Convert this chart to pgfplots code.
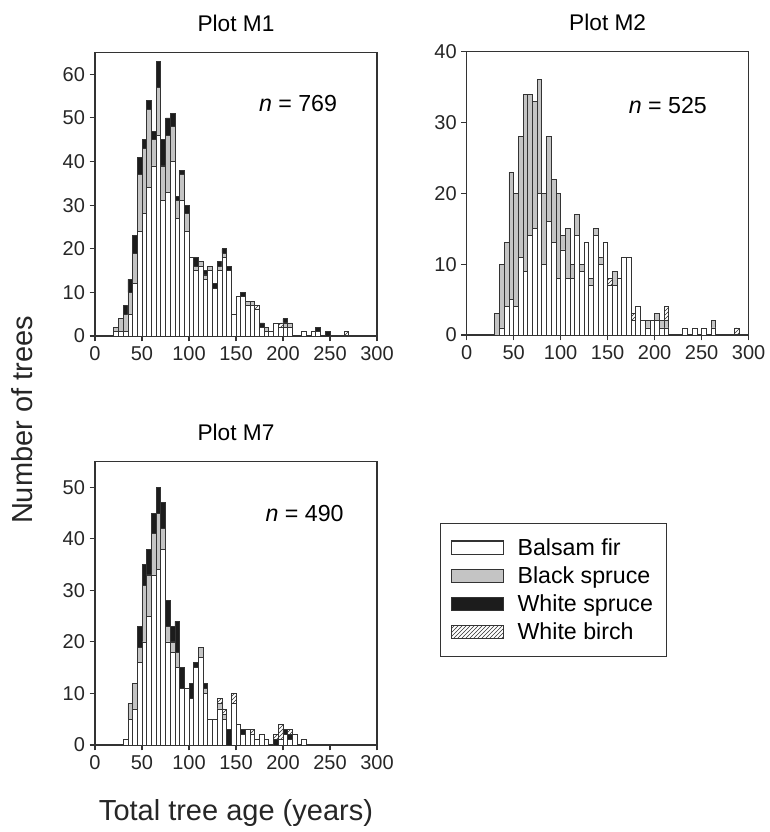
\documentclass[border=0pt]{standalone}
\usepackage{fontspec}
\setmainfont{Liberation Sans}
\usepackage{pgfplots}
\usepackage{pgfplotstable}
\pgfplotsset{compat=1.18}
\usetikzlibrary{patterns}

\definecolor{edge}{HTML}{333333}
\definecolor{bsgray}{HTML}{C4C4C4}
\definecolor{wsblack}{HTML}{1C1C1C}

% age class midpoints (5-yr classes), counts per species
% bf = balsam fir, bs = black spruce, ws = white spruce, wb = white birch
\pgfplotstableread{
x     bf bs ws wb
22.5   1  1  0  0
27.5   1  3  0  0
32.5   1  4  2  0
37.5   5  5  3  0
42.5  12  7  4  0
47.5  24 13  4  0
52.5  28 15  2  0
57.5  34 18  2  0
62.5  39  6  2  0
67.5  46 11  6  0
72.5  31  8  6  0
77.5  33 13  4  0
82.5  40  8  3  0
87.5  27  4  1  0
92.5  31  6  1  0
97.5  24  4  2  0
102.5 18  0  0  0
107.5 15  1  2  0
112.5 16  1  0  0
117.5 13  1  1  0
122.5 15  1  0  0
127.5 11  0  1  0
132.5 15  1  1  0
137.5 18  1  1  0
142.5 15  0  1  0
147.5  5  0  0  0
152.5  9  0  0  0
157.5  9  0  1  0
162.5  7  1  0  0
167.5  7  1  0  0
172.5  6  0  0  1
177.5  2  0  1  0
182.5  1  1  0  0
187.5  1  0  0  0
192.5  3  0  0  0
197.5  2  0  0  1
202.5  2  1  1  0
207.5  2  1  0  0
222.5  1  0  0  0
232.5  1  0  0  0
237.5  1  0  1  0
247.5  0  0  1  0
267.5  0  0  0  1
}\tabMone

\pgfplotstableread{
x     bf bs ws wb
32.5   0  3  0  0
37.5   1  9  0  0
42.5   4  9  0  0
47.5   5 18  0  0
52.5   4 16  0  0
57.5  11 17  0  0
62.5   9 25  0  0
67.5  14 20  0  0
72.5  15 18  0  0
77.5  20 16  0  0
82.5  10 10  0  0
87.5  16 12  0  0
92.5  13  9  0  0
97.5   8 12  0  0
102.5 12  2  0  0
107.5  8  7  0  0
112.5  8  2  0  0
117.5 14  3  0  0
122.5  9  1  0  0
127.5 13  0  0  0
132.5  7  1  0  0
137.5 14  1  0  0
142.5 10  1  0  0
147.5 13  0  0  0
152.5  7  0  0  1
157.5  7  2  0  0
162.5  8  0  0  0
167.5 11  0  0  0
172.5 11  0  0  0
177.5  2  0  0  1
182.5  4  0  0  0
187.5  2  0  0  0
192.5  1  1  0  0
197.5  2  0  0  0
202.5  2  1  0  0
207.5  1  1  0  0
212.5  1  1  0  2
232.5  1  0  0  0
242.5  1  0  0  0
252.5  1  0  0  0
262.5  1  1  0  0
287.5  0  0  0  1
}\tabMtwo

\pgfplotstableread{
x     bf bs ws wb
32.5   1  0  0  0
37.5   5  3  0  0
42.5   7  5  0  0
47.5  16  3  4  0
52.5  20 11  4  0
57.5  25  8  5  0
62.5  33  8  4  0
67.5  34 11  5  0
72.5  38  4  5  0
77.5  20  3  5  0
82.5  18  2  3  0
87.5  15  3  6  0
92.5  11  0  4  0
97.5  11  0  0  0
102.5  9  0  3  0
107.5 15  0  1  0
112.5 17  2  0  0
117.5 10  1  1  0
122.5  5  0  0  0
127.5  5  0  0  0
132.5  7  1  0  1
137.5  5  1  0  1
142.5  0  0  3  0
147.5  8  0  0  2
152.5  4  0  0  0
157.5  2  0  1  0
162.5  3  0  0  0
167.5  2  0  0  1
172.5  1  0  0  0
177.5  2  0  0  0
182.5  1  0  0  0
192.5  0  0  1  1
197.5  1  0  0  3
202.5  2  0  1  0
207.5  1  0  1  1
212.5  2  0  0  0
222.5  1  0  0  0
}\tabMseven

\pgfplotsset{
  agebars/.style={
    scale only axis, width=211.5pt, height=212.6pt,
    xmin=0, xmax=300, ymin=0,
    xtick={0,50,...,300},
    tick align=outside, xtick pos=bottom, ytick pos=left,
    major tick length=4pt,
    axis line style={edge, line width=0.8pt},
    every tick/.style={edge, line width=0.8pt},
    tick label style={font=\fontsize{15}{18}\selectfont, text=black!85},
    /pgf/number format/assume math mode=true,
    ybar stacked, bar width=5,
    title style={font=\fontsize{17}{20}\selectfont, at={(0.5,1)}, anchor=base, yshift=10pt},
  },
  sp/.style={draw=edge, line width=0.6pt},
  boxlegend/.style={legend image code/.code={\draw[##1,line width=0.8pt] (0pt,-5pt) rectangle (39pt,5pt);}},
}
\newcommand{\nfont}{\fontsize{17.4}{21}\selectfont}

\begin{document}
\begin{tikzpicture}
\useasboundingbox (0,0) rectangle (576.75pt,-624pt);

% Plot M1
\begin{axis}[agebars, at={(71.25pt,-252pt)}, anchor=south west,
  ymax=65, ytick={0,10,...,60}, title={Plot M1}]
\addplot[sp, fill=white] table[x=x,y=bf]{\tabMone};
\addplot[sp, fill=bsgray] table[x=x,y=bs]{\tabMone};
\addplot[sp, fill=wsblack] table[x=x,y=ws]{\tabMone};
\addplot[sp, pattern=north east lines, pattern color=edge] table[x=x,y=wb]{\tabMone};
\node[font=\nfont] at (axis cs:216,53.4) {\textit{n} = 769};
\end{axis}

% Plot M2
\begin{axis}[agebars, at={(350pt,-251.25pt)}, anchor=south west,
  ymax=40, ytick={0,10,...,40}, title={Plot M2}]
\addplot[sp, fill=white] table[x=x,y=bf]{\tabMtwo};
\addplot[sp, fill=bsgray] table[x=x,y=bs]{\tabMtwo};
\addplot[sp, fill=wsblack] table[x=x,y=ws]{\tabMtwo};
\addplot[sp, pattern=north east lines, pattern color=edge] table[x=x,y=wb]{\tabMtwo};
\node[font=\nfont] at (axis cs:214,32.4) {\textit{n} = 525};
\end{axis}

% Plot M7
\begin{axis}[agebars, at={(71.25pt,-558.75pt)}, anchor=south west,
  ymax=55, ytick={0,10,...,50}, title={Plot M7},
  legend style={at={(1.2234,0.783)}, anchor=north west, draw=edge,
    line width=0.8pt, font=\nfont, inner xsep=8pt, inner ysep=9pt,
    row sep=3pt, column sep=8pt},
  legend cell align=left]
\addplot[sp, fill=white, boxlegend] table[x=x,y=bf]{\tabMseven};
\addplot[sp, fill=bsgray, boxlegend] table[x=x,y=bs]{\tabMseven};
\addplot[sp, fill=wsblack, boxlegend] table[x=x,y=ws]{\tabMseven};
\addplot[sp, pattern=north east lines, pattern color=edge, boxlegend] table[x=x,y=wb]{\tabMseven};
\node[font=\nfont] at (axis cs:223,45) {\textit{n} = 490};
\legend{Balsam fir, Black spruce, White spruce, White birch}
\end{axis}

\node[font=\fontsize{21.75}{26}\selectfont, text=black!85] at (177pt,-609.5pt) {Total tree age (years)};
\node[font=\fontsize{21.75}{26}\selectfont, text=black!85, rotate=90] at (16.5pt,-315pt) {Number of trees};
\end{tikzpicture}
\end{document}
